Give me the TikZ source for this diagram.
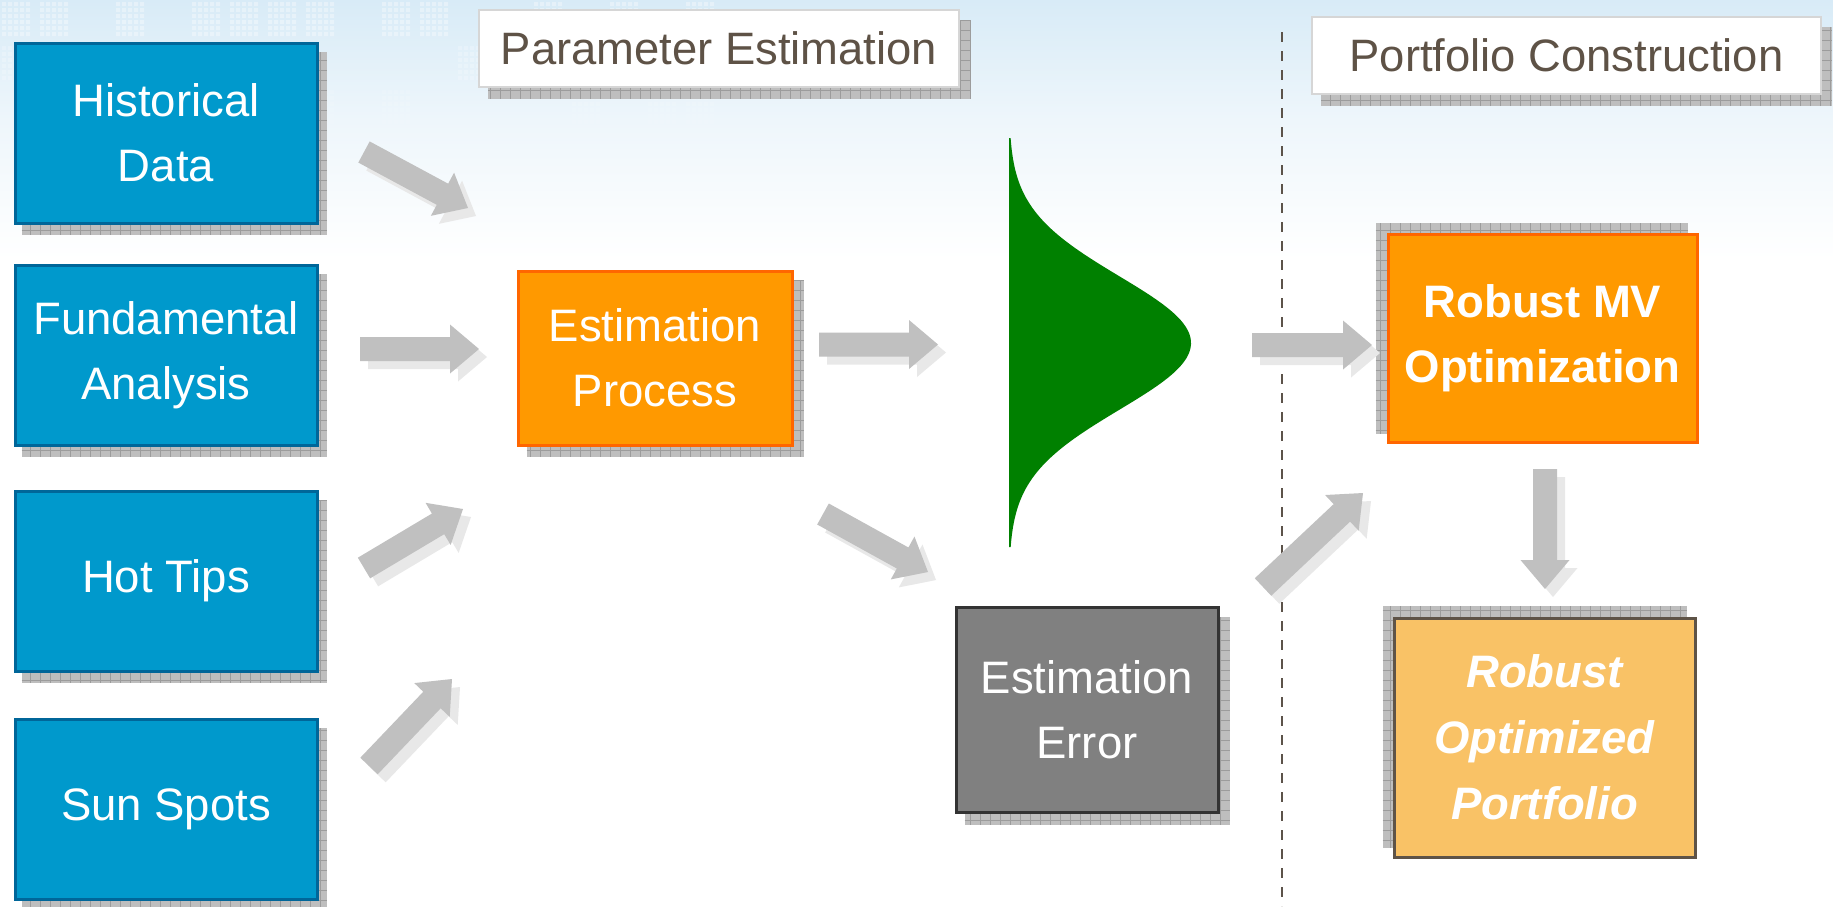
\documentclass[tikz,border=0pt]{standalone}
\usepackage{fontspec}
\setmainfont{Liberation Sans}
\usetikzlibrary{calc}
\definecolor{boxblue}{HTML}{0099CC}
\definecolor{boxblueborder}{HTML}{006699}
\definecolor{boxorange}{HTML}{FF9900}
\definecolor{boxorangeborder}{HTML}{FF6600}
\definecolor{boxgray}{HTML}{808080}
\definecolor{boxgrayborder}{HTML}{333333}
\definecolor{boxlight}{HTML}{F9C266}
\definecolor{boxlightborder}{HTML}{5E5347}
\definecolor{titletext}{HTML}{5E5246}
\definecolor{titleborder}{HTML}{D6D6D6}
\definecolor{shadowfill}{HTML}{BEBEBE}
\definecolor{shadowgridc}{HTML}{9C9C9C}
\definecolor{arrowgray}{HTML}{C0C0C0}
\definecolor{arrowshadow}{HTML}{E8E8E8}
\definecolor{bellgreen}{HTML}{008000}
\definecolor{bgtop}{HTML}{D8EBF7}
\definecolor{bgmid}{HTML}{EEF6FB}
\definecolor{divcolor}{HTML}{5C534A}
\pgfdeclarelayer{bg}
\pgfdeclarelayer{shadowlayer}
\pgfsetlayers{bg,shadowlayer,main}
\newcommand\fatarrow[3]{%
  \coordinate (hb) at ($(#2)!29pt!(#1)$);
  \fill[#3] ($(#1)!12pt!90:(#2)$) -- ($(hb)!12pt!90:(#2)$) -- ($(hb)!24.5pt!90:(#2)$) -- (#2)
    -- ($(hb)!24.5pt!-90:(#2)$) -- ($(hb)!12pt!-90:(#2)$) -- ($(#1)!12pt!-90:(#2)$) -- cycle;}
\newcommand\blockarrow[2]{%
  \coordinate (st) at ([shift={(8,8)}]#1);
  \coordinate (sp) at ([shift={(8,8)}]#2);
  \fatarrow{st}{sp}{arrowshadow}%
  \fatarrow{#1}{#2}{arrowgray}}
\newcommand\boxshadow[3]{%
  \begin{pgfonlayer}{shadowlayer}
    \fill[shadowfill] ([shift={(#2,#3)}]#1.north west) rectangle ([shift={(#2,#3)}]#1.south east);
    \draw[shadowgridc, line width=0.8pt, step=10pt] ([shift={(#2,#3)}]#1.north west) grid ([shift={(#2,#3)}]#1.south east);
  \end{pgfonlayer}}
\tikzset{
  basebox/.style={rectangle, align=center, inner sep=0pt, line width=3pt, text=white,
    font=\fontsize{45.5}{65}\selectfont},
  bluebox/.style={basebox, fill=boxblue, draw=boxblueborder, minimum width=302pt, minimum height=180pt},
  orangebox/.style={basebox, fill=boxorange, draw=boxorangeborder},
  graybox/.style={basebox, fill=boxgray, draw=boxgrayborder},
  lightbox/.style={basebox, fill=boxlight, draw=boxlightborder},
  titlebox/.style={rectangle, inner sep=0pt, fill=white, draw=titleborder, line width=2pt,
    text=titletext, font=\fontsize{45.4}{52}\selectfont},
  divider/.style={draw=divcolor, line width=2.5pt, dash pattern=on 10pt off 9pt}
}
\begin{document}
\begin{tikzpicture}[x=1pt, y=-1pt]
\useasboundingbox (0,0) rectangle (1833,906);
\begin{pgfonlayer}{bg}
  \fill[white] (0,0) rectangle (1833,906);
  \shade[top color=bgtop, bottom color=bgmid] (0,0) rectangle (1833,120);
  \shade[top color=bgmid, bottom color=white] (0,120) rectangle (1833,260);
  % faint dot-matrix texture
  \pgfmathsetseed{11}
  \foreach \bx in {0,...,18}{
    \foreach \by/\op in {0/0.35,1/0.22,2/0.1}{
      \pgfmathsetmacro\r{rnd}
      \ifdim\r pt>0.45pt
        \fill[white, opacity=\op] \foreach \i in {0,...,4}{\foreach \j in {0,...,5}{
          ({\bx*38+\i*6+2},{\by*44+\j*6+2}) rectangle ++(4,4)}};
      \fi
    }
  }
\end{pgfonlayer}

% divider
\draw[divider] (1282,32) -- (1282,906);

% bell curve
\fill[bellgreen] (1009,138) -- plot[domain=138:547, samples=120, smooth] ({1009+182*exp(-0.5*((\x-343)/66.7)^2)}, \x) -- (1009,547) -- cycle;

% nodes
\node[bluebox] (hist) at (166,133) {Historical\\Data};
\node[bluebox] (fund) at (166,355) {Fundamental\\Analysis};
\node[bluebox] (hot) at (166,581) {Hot Tips};
\node[bluebox] (sun) at (166,809) {Sun Spots};
\node[titlebox, minimum width=480pt, minimum height=77pt] (pe) at (719,48) {Parameter Estimation};
\node[titlebox, minimum width=509pt, minimum height=77pt] (pc) at (1566.5,55.5) {Portfolio Construction};
\node[orangebox, minimum width=274pt, minimum height=174pt] (ep) at (655,358) {Estimation\\Process};
\node[graybox, minimum width=262pt, minimum height=205pt] (ee) at (1087,709.5) {Estimation\\Error};
\node[orangebox, minimum width=309pt, minimum height=208pt, font=\fontsize{45.5}{65}\selectfont\bfseries] (mv) at (1542.5,338) {Robust MV\\Optimization};
\node[lightbox, minimum width=301pt, minimum height=239pt, font=\fontsize{45.5}{66}\selectfont\bfseries\itshape] (rop) at (1544.5,737.5) {Robust\\Optimized\\Portfolio};

% box shadows
\boxshadow{hist}{8}{10}
\boxshadow{fund}{8}{10}
\boxshadow{hot}{8}{10}
\boxshadow{sun}{8}{10}
\boxshadow{pe}{10}{11}
\boxshadow{pc}{10}{11}
\boxshadow{ep}{10}{10}
\boxshadow{ee}{10}{11}
\boxshadow{mv}{-11}{-10}
\boxshadow{rop}{-10}{-11}

% arrow end points
\coordinate (a1s) at (364,152);  \coordinate (a1e) at (468,208);
\coordinate (a2s) at (360,349);  \coordinate (a2e) at (479,349);
\coordinate (a3s) at (364,568);  \coordinate (a3e) at (463,509);
\coordinate (a4s) at (369,766);  \coordinate (a4e) at (452,679);
\coordinate (a5s) at (819,344.5); \coordinate (a5e) at (938,344.5);
\coordinate (a6s) at (823,514);  \coordinate (a6e) at (928,572);
\coordinate (a7s) at (1252,345); \coordinate (a7e) at (1372,345);
\coordinate (a8s) at (1263,587); \coordinate (a8e) at (1363,493);
\coordinate (a9s) at (1545,469); \coordinate (a9e) at (1545,589);

\blockarrow{a1s}{a1e}
\blockarrow{a2s}{a2e}
\blockarrow{a3s}{a3e}
\blockarrow{a4s}{a4e}
\blockarrow{a5s}{a5e}
\blockarrow{a6s}{a6e}
\blockarrow{a7s}{a7e}
\blockarrow{a8s}{a8e}
\blockarrow{a9s}{a9e}
\end{tikzpicture}
\end{document}
